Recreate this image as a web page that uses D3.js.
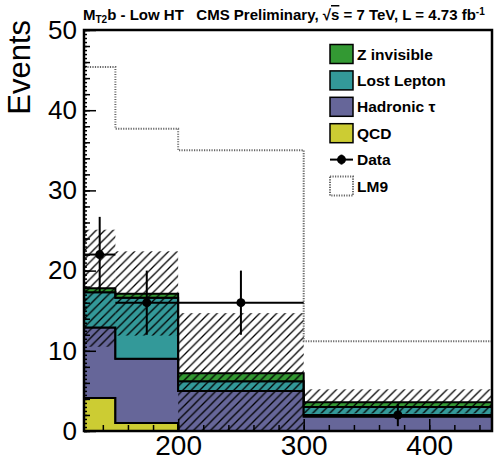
<!DOCTYPE html>
<html>
<head>
<meta charset="utf-8">
<script src="https://cdn.jsdelivr.net/npm/d3@7"></script>
<style>
  body { margin: 0; background: #fff; }
  text { font-family: "Liberation Sans", Arial, Helvetica, sans-serif; }
</style>
</head>
<body>
<div id="chart"></div>
<script>
// bins in MT2 (GeV)
var binLo = [125, 150, 200, 300]
var binHi = [150, 200, 300, 450]

// stacked backgrounds (per component, not cumulative)
var qcd = [4.1, 1.0, 0.0, 0.0]
var hadTau = [8.8, 8.0, 5.0, 1.8]
var lostLepton = [4.4, 7.6, 1.2, 1.2]
var zInv = [0.5, 0.5, 1.0, 0.6]

// background uncertainty band
var bandLow = [10.5, 11.9, 0.0, 2.2]
var bandHigh = [25.1, 22.4, 14.7, 5.2]

// LM9 signal
var lm9 = [45.4, 37.7, 35.0, 11.2]

// data points
var dataX = [137.5, 175, 250, 375]
var dataY = [22, 16, 16, 2]
var dataErr = [4.7, 4.0, 4.0, 1.4]

var yTicks = [0, 10, 20, 30, 40, 50]
var xTicks = [200, 300, 400]

var legendNames = ['Z invisible', 'Lost Lepton', 'Hadronic τ', 'QCD', 'Data', 'LM9']

var margin = { top: 30, left: 84, right: 6, bottom: 32 }
var width = 498 - margin.left - margin.right
var height = 463 - margin.top - margin.bottom

var colors = {
  qcd: '#cccc33',
  hadTau: '#666699',
  lostLepton: '#339999',
  zInv: '#339933'
}

var svg = d3
  .select('#chart')
  .append('svg')
  .attr('width', 498)
  .attr('height', 463)

// hatch pattern for the uncertainty band
svg
  .append('defs')
  .append('pattern')
  .attr('id', 'hatch')
  .attr('patternUnits', 'userSpaceOnUse')
  .attr('width', 8.5)
  .attr('height', 8.5)
  .append('path')
  .attr('d', 'M-1,1 l2,-2 M0,8.5 l8.5,-8.5 M7.5,9.5 l2,-2')
  .attr('stroke', '#000')
  .attr('stroke-width', 1.3)

var container = svg
  .append('g')
  .attr('transform', 'translate(' + margin.left + ',' + margin.top + ')')

var x = d3.scaleLinear().domain([125, 450]).range([0, width])
var y = d3.scaleLinear().domain([0, 50]).range([height, 0])

// build stack
var bins = binLo.map(function(lo, i) {
  return { lo: lo, hi: binHi[i], qcd: qcd[i], hadTau: hadTau[i], lostLepton: lostLepton[i], zInv: zInv[i] }
})
var keys = ['qcd', 'hadTau', 'lostLepton', 'zInv']
var stacked = d3.stack().keys(keys)(bins)

// step area from each bin edge
var stepArea = d3
  .area()
  .x(d => x(d.x))
  .y0(d => y(d.y0))
  .y1(d => y(d.y1))

function stepPoints(series) {
  var pts = []
  series.forEach(function(d) {
    pts.push({ x: d.data.lo, y0: d[0], y1: d[1] })
    pts.push({ x: d.data.hi, y0: d[0], y1: d[1] })
  })
  return pts
}

container
  .selectAll('.layer')
  .data(stacked)
  .enter()
  .append('path')
  .attr('class', 'layer')
  .attr('d', s => stepArea(stepPoints(s)))
  .attr('fill', s => colors[s.key])
  .attr('stroke', '#000')
  .attr('stroke-width', 2)
  .attr('stroke-linejoin', 'miter')

// hatched band
var band = binLo.map(function(lo, i) {
  return { lo: lo, hi: binHi[i], low: bandLow[i], high: bandHigh[i] }
})
container
  .selectAll('.band')
  .data(band)
  .enter()
  .append('rect')
  .attr('class', 'band')
  .attr('x', d => x(d.lo))
  .attr('width', d => x(d.hi) - x(d.lo))
  .attr('y', d => y(d.high))
  .attr('height', d => y(d.low) - y(d.high))
  .attr('fill', 'url(#hatch)')

// LM9 dotted step line
var lmPts = [[binLo[0], 0]]
lm9.forEach(function(v, i) {
  lmPts.push([binLo[i], v])
  lmPts.push([binHi[i], v])
})
lmPts.push([binHi[binHi.length - 1], 0])
container
  .append('path')
  .attr('d', d3.line().x(d => x(d[0])).y(d => y(d[1]))(lmPts))
  .attr('fill', 'none')
  .attr('stroke', '#666')
  .attr('stroke-width', 2)
  .attr('stroke-dasharray', '1.2,1.3')

// data points
var pts = dataX.map(function(v, i) {
  return { x: v, y: dataY[i], err: dataErr[i], lo: binLo[i], hi: binHi[i] }
})
var dp = container.selectAll('.pt').data(pts).enter().append('g')
dp.append('line')
  .attr('x1', d => x(d.lo))
  .attr('x2', d => x(d.hi))
  .attr('y1', d => y(d.y))
  .attr('y2', d => y(d.y))
  .attr('stroke', '#000')
  .attr('stroke-width', 2)
dp.append('line')
  .attr('x1', d => x(d.x))
  .attr('x2', d => x(d.x))
  .attr('y1', d => y(d.y - d.err))
  .attr('y2', d => y(d.y + d.err))
  .attr('stroke', '#000')
  .attr('stroke-width', 2)
dp.append('circle')
  .attr('cx', d => x(d.x))
  .attr('cy', d => y(d.y))
  .attr('r', 4.5)
  .attr('fill', '#000')

// axes, ROOT style ticks inside the frame
function minorTicks(lo, hi, step) {
  var out = []
  for (var v = lo; v <= hi + 1e-9; v += step) out.push(Math.round(v * 100) / 100)
  return out
}

container
  .append('g')
  .call(d3.axisLeft(y).tickValues(minorTicks(0, 50, 0.5)).tickSize(-3).tickFormat(''))
container
  .append('g')
  .call(d3.axisLeft(y).tickValues(minorTicks(0, 50, 2)).tickSize(-6).tickFormat(''))
var yAxis = container
  .append('g')
  .call(d3.axisLeft(y).tickValues(yTicks).tickSize(-12).tickPadding(7).tickFormat(d3.format('d')))
yAxis.selectAll('text').attr('font-size', 26).attr('fill', '#000')

container
  .append('g')
  .attr('transform', 'translate(0,' + height + ')')
  .call(d3.axisBottom(x).tickValues(minorTicks(140, 440, 20)).tickSize(-6).tickFormat(''))
var xAxis = container
  .append('g')
  .attr('transform', 'translate(0,' + height + ')')
  .call(d3.axisBottom(x).tickValues(xTicks).tickSize(-12).tickPadding(4).tickFormat(d3.format('d')))
xAxis.selectAll('text').attr('font-size', 28).attr('fill', '#000')

container.selectAll('.domain').remove()
container.selectAll('.tick line').attr('stroke', '#000').attr('stroke-width', 1.5)

// frame
container
  .append('rect')
  .attr('width', width)
  .attr('height', height)
  .attr('fill', 'none')
  .attr('stroke', '#000')
  .attr('stroke-width', 2.5)

// y title
svg
  .append('text')
  .attr('transform', 'translate(30,20) rotate(-90)')
  .attr('text-anchor', 'end')
  .attr('font-size', 31)
  .text('Events')

// title
var title = svg
  .append('text')
  .attr('x', 83)
  .attr('y', 20)
  .attr('font-size', 15)
  .attr('font-weight', 'bold')
  .style('white-space', 'pre')
title.append('tspan').text('M')
title.append('tspan').attr('font-size', 10).attr('dy', 3).text('T2')
title.append('tspan').attr('dy', -3).text('b - Low HT   CMS Preliminary, √')
title.append('tspan').attr('text-decoration', 'overline').text('s')
title.append('tspan').text(' = 7 TeV, L = 4.73 fb')
title.append('tspan').attr('font-size', 10).attr('dy', -5).text('-1')

// legend
var legend = svg
  .selectAll('.legend')
  .data(legendNames)
  .enter()
  .append('g')
  .attr('transform', (d, i) => 'translate(330,' + (54 + i * 26.4) + ')')

var legendFill = [colors.zInv, colors.lostLepton, colors.hadTau, colors.qcd]
legend.each(function(d, i) {
  var g = d3.select(this)
  if (i < 4) {
    g.append('rect')
      .attr('x', 0)
      .attr('y', -9.5)
      .attr('width', 23)
      .attr('height', 19)
      .attr('fill', legendFill[i])
      .attr('stroke', '#000')
      .attr('stroke-width', 1.5)
  } else if (i === 4) {
    g.append('line').attr('x1', 0).attr('x2', 23).attr('stroke', '#000').attr('stroke-width', 2)
    g.append('line').attr('x1', 11.5).attr('x2', 11.5).attr('y1', -5).attr('y2', 5).attr('stroke', '#000').attr('stroke-width', 2)
    g.append('circle').attr('cx', 11.5).attr('r', 4.5).attr('fill', '#000')
  } else {
    g.append('rect')
      .attr('x', 0)
      .attr('y', -9.5)
      .attr('width', 23)
      .attr('height', 19)
      .attr('fill', 'none')
      .attr('stroke', '#666')
      .attr('stroke-width', 2)
      .attr('stroke-dasharray', '1.2,1.3')
  }
  g.append('text')
    .attr('x', 27)
    .attr('y', 5.5)
    .attr('font-size', 15.5)
    .attr('font-weight', 'bold')
    .text(d)
})
</script>
</body>
</html>
